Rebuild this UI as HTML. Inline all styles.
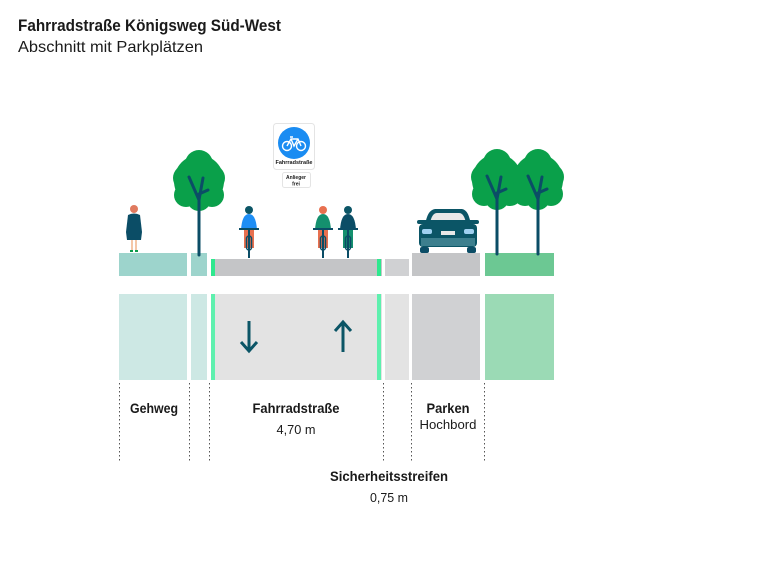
<!DOCTYPE html>
<html><head><meta charset="utf-8"><style>
html,body{margin:0;padding:0;background:#fff;width:765px;height:580px;overflow:hidden}
svg text{font-family:"Liberation Sans",sans-serif;fill:#1a1a1a}
</style></head><body>
<svg width="765" height="580" viewBox="0 0 765 580" xmlns="http://www.w3.org/2000/svg">
<text x="18" y="31" font-size="17" font-weight="bold" textLength="263" lengthAdjust="spacingAndGlyphs">Fahrradstraße Königsweg Süd-West</text>
<text x="18" y="52" font-size="16" textLength="185" lengthAdjust="spacingAndGlyphs" fill="#222">Abschnitt mit Parkplätzen</text>

<rect x="119" y="253" width="68" height="23" fill="#9dd4cc"/>
<rect x="191" y="253" width="16" height="23" fill="#9dd4cc"/>
<rect x="211" y="259" width="171" height="17" fill="#c4c5c7"/>
<rect x="211" y="259" width="4" height="17" fill="#2ee88e"/>
<rect x="377" y="259" width="4" height="17" fill="#2ee88e"/>
<rect x="385" y="259" width="24" height="17" fill="#d0d1d3"/>
<rect x="412" y="253" width="68" height="23" fill="#c4c5c7"/>
<rect x="485" y="253" width="69" height="23" fill="#6cc893"/>

<rect x="119" y="294" width="68" height="86" fill="#cde8e4"/>
<rect x="191" y="294" width="16" height="86" fill="#cde8e4"/>
<rect x="211" y="294" width="171" height="86" fill="#e3e3e3"/>
<rect x="211" y="294" width="4" height="86" fill="#5ef0ae"/>
<rect x="377" y="294" width="4" height="86" fill="#5ef0ae"/>
<rect x="385" y="294" width="24" height="86" fill="#e3e3e3"/>
<rect x="412" y="294" width="68" height="86" fill="#d0d1d3"/>
<rect x="485" y="294" width="69" height="86" fill="#9bdab5"/>

<g stroke="#0b5566" stroke-width="3" fill="none">
<path d="M249 321 V351 M241 342 L249 351 L257 342"/>
<path d="M343 352 V322 M335 331 L343 322 L351 331"/>
</g>

<g stroke="#555" stroke-width="1" stroke-dasharray="1.5 2.5">
<path d="M119.5 383 V462 M189.5 383 V462 M209.5 383 V462 M383.5 383 V462 M411.5 383 V462 M484.5 383 V462"/>
</g>

<text x="154" y="413" font-size="14" font-weight="bold" text-anchor="middle" textLength="48" lengthAdjust="spacingAndGlyphs">Gehweg</text>
<text x="296" y="413" font-size="14" font-weight="bold" text-anchor="middle" textLength="87" lengthAdjust="spacingAndGlyphs">Fahrradstraße</text>
<text x="296" y="434" font-size="13" text-anchor="middle" textLength="39" lengthAdjust="spacingAndGlyphs" fill="#222">4,70 m</text>
<text x="448" y="413" font-size="14" font-weight="bold" text-anchor="middle" textLength="43" lengthAdjust="spacingAndGlyphs">Parken</text>
<text x="448" y="429" font-size="13" text-anchor="middle" textLength="57" lengthAdjust="spacingAndGlyphs" fill="#222">Hochbord</text>
<text x="389" y="481" font-size="14" font-weight="bold" text-anchor="middle" textLength="118" lengthAdjust="spacingAndGlyphs">Sicherheitsstreifen</text>
<text x="389" y="502" font-size="13" text-anchor="middle" textLength="38" lengthAdjust="spacingAndGlyphs" fill="#222">0,75 m</text>

<g id="tree">
<g fill="#0aa04a">
<ellipse cx="199" cy="181" rx="25" ry="26"/>
<circle cx="199" cy="164" r="14"/>
<circle cx="186" cy="178" r="13"/>
<circle cx="212" cy="178" r="13"/>
<circle cx="186" cy="195" r="12"/>
<circle cx="212" cy="195" r="12"/>
<circle cx="199" cy="199" r="12"/>
</g>
<g stroke="#0b4d66" stroke-width="3" fill="none" stroke-linecap="round">
<path d="M199 200 V255"/><path d="M189 177 L199 200 L203 178"/><path d="M199 194 L208 190"/>
</g>
</g>
<use href="#tree" x="298" y="-1"/>
<use href="#tree" x="339" y="-1"/>

<g>
<circle cx="134" cy="209" r="4" fill="#e07a5f"/>
<path d="M128 215 Q134 212 140 215 L142 232 L141 240 L127 240 L126 232 Z" fill="#0b4d66"/>
<rect x="131" y="240" width="2" height="11" fill="#f4c7a8"/>
<rect x="135" y="240" width="2" height="11" fill="#f4c7a8"/>
<rect x="130" y="250" width="3" height="2" fill="#0a9a4a"/>
<rect x="135" y="250" width="3" height="2" fill="#0a9a4a"/>
</g>

<g>
<rect x="244" y="228" width="10" height="20" fill="#e8704f"/>
<path d="M241 230 Q242 214 249 214 Q256 214 257 230 Z" fill="#1e8ef5"/>
<circle cx="249" cy="210" r="4" fill="#0b5566"/>
<rect x="239" y="228" width="20" height="2" fill="#0b4d66"/>
<rect x="246.5" y="236" width="5" height="14" rx="2.5" fill="none" stroke="#0b4d66" stroke-width="1.5"/>
<rect x="248" y="230" width="2" height="28" fill="#0b4d66"/>
</g>
<g transform="translate(74,0)">
<rect x="244" y="228" width="10" height="20" fill="#e8704f"/>
<path d="M241 230 Q242 214 249 214 Q256 214 257 230 Z" fill="#14906e"/>
<circle cx="249" cy="210" r="4" fill="#e8704f"/>
<rect x="239" y="228" width="20" height="2" fill="#0b4d66"/>
<rect x="246.5" y="236" width="5" height="14" rx="2.5" fill="none" stroke="#0b4d66" stroke-width="1.5"/>
<rect x="248" y="230" width="2" height="28" fill="#0b4d66"/>
</g>
<g transform="translate(99,0)">
<rect x="244" y="228" width="10" height="20" fill="#14906e"/>
<path d="M241 230 Q242 214 249 214 Q256 214 257 230 Z" fill="#0b4d66"/>
<circle cx="249" cy="210" r="4" fill="#0b5566"/>
<rect x="239" y="228" width="20" height="2" fill="#0b4d66"/>
<rect x="246.5" y="236" width="5" height="14" rx="2.5" fill="none" stroke="#0b4d66" stroke-width="1.5"/>
<rect x="248" y="230" width="2" height="28" fill="#0b4d66"/>
</g>

<g>
<path d="M425 226 Q427 210 435 209 L462 209 Q469 210 471 226 Z" fill="#0b5566"/>
<path d="M430 223 Q432 213 437 213 L459 213 Q464 213 466 223 Z" fill="#e8e8e8"/>
<rect x="417" y="220" width="62" height="4" rx="2" fill="#0b5566"/>
<rect x="419" y="224" width="58" height="23" rx="4" fill="#0b5566"/>
<rect x="421" y="238" width="54" height="8" fill="#3c7f8e"/>
<rect x="420" y="247" width="9" height="6" rx="2" fill="#0b4d66"/>
<rect x="467" y="247" width="9" height="6" rx="2" fill="#0b4d66"/>
<rect x="422" y="229" width="10" height="5" rx="2" fill="#9fd0f0"/>
<rect x="464" y="229" width="10" height="5" rx="2" fill="#9fd0f0"/>
<rect x="441" y="231" width="14" height="4" fill="#e8e8e8"/>
</g>

<rect x="273.5" y="123.5" width="41" height="46" rx="3" fill="#fff" stroke="#e4e4e4"/>
<circle cx="294" cy="143" r="16" fill="#1a8cf2"/>
<g stroke="#fff" stroke-width="1.4" fill="none">
<circle cx="287" cy="146" r="4.5"/><circle cx="301" cy="146" r="4.5"/>
<path d="M287 146 L291 139 L298 139 L301 146 M291 139 L294 146 L298 139 M290 137 h3"/>
</g>
<text x="294" y="164" font-size="5.5" font-weight="bold" text-anchor="middle" fill="#2a4a5a">Fahrradstraße</text>
<rect x="282.5" y="172.5" width="28" height="15" rx="2" fill="#fff" stroke="#e4e4e4"/>
<text x="296" y="179" font-size="5" font-weight="bold" text-anchor="middle" fill="#2a4a5a">Anlieger</text>
<text x="296" y="185.5" font-size="5" font-weight="bold" text-anchor="middle" fill="#2a4a5a">frei</text>
</svg>
</body></html>
